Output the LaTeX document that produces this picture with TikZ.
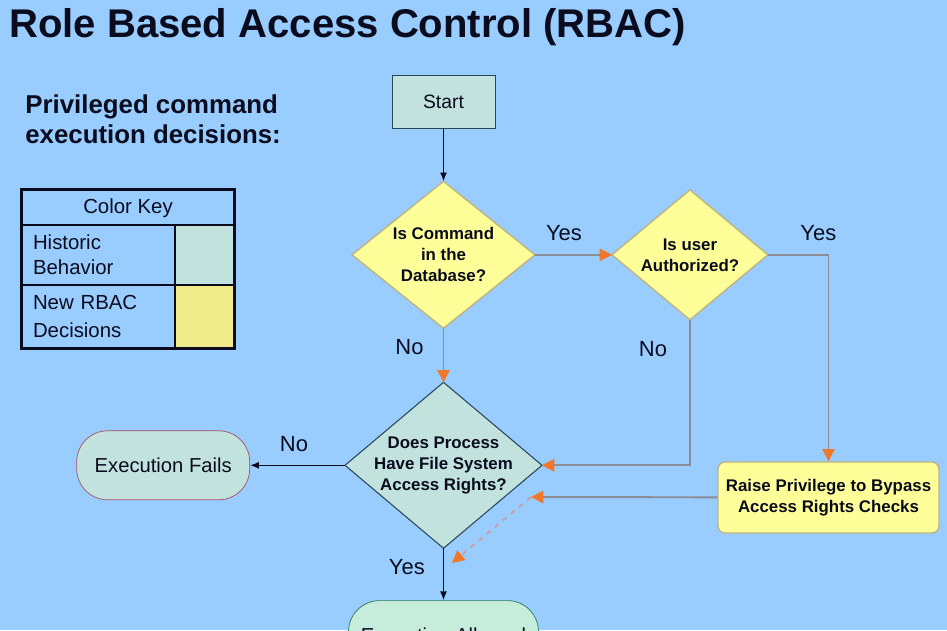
\documentclass[tikz,border=0pt]{standalone}
\usepackage{fontspec}
\setmainfont{Liberation Sans}
\usepackage{tikz}
\usetikzlibrary{positioning,shapes.geometric,arrows.meta}

\definecolor{Sky}{RGB}{153,204,255}
\definecolor{Ink}{RGB}{10,12,30}
\definecolor{OldFill}{RGB}{194,226,221}
\definecolor{OldDark}{RGB}{40,70,90}
\definecolor{NewFill}{RGB}{255,255,153}
\definecolor{NewLine}{RGB}{190,180,130}
\definecolor{SwatchYellow}{RGB}{240,236,140}
\definecolor{OkFill}{RGB}{198,236,220}
\definecolor{OkLine}{RGB}{40,120,90}
\definecolor{FailLine}{RGB}{170,80,100}
\definecolor{FlowGray}{RGB}{140,140,150}
\definecolor{DashPink}{RGB}{200,160,170}
\definecolor{Tip}{RGB}{240,120,40}

\begin{document}
\begin{tikzpicture}[
		x=0.02cm, y=-0.02cm,
		answer/.style={font=\fontsize{12.5}{14}\selectfont, text=Ink, inner sep=2pt},
		oldstep/.style={draw=OldDark, fill=OldFill, text=Ink, align=center, font=\fontsize{11.5}{13}\selectfont},
		newdecide/.style={diamond, draw=NewLine, fill=NewFill, thick, inner sep=0pt, outer sep=0pt, text=Ink, align=center,
			font=\fontsize{9.6}{11.9}\selectfont\bfseries},
		olddecide/.style={newdecide, draw=OldDark, fill=OldFill, semithick},
		hop/.style={line width=1.1pt, FlowGray, -{Triangle[length=7pt, width=7pt, color=Tip]}},
		oldhop/.style={line width=0.9pt, Ink, -{Latex[length=5pt, width=4pt]}},
		keycell/.style={draw=Ink, line width=0.9pt, inner sep=0pt, text=Ink, font=\fontsize{11.6}{14.2}\selectfont}
	]
	\useasboundingbox (0,0) rectangle (947,630);
	\clip (0,0) rectangle (947,630);
	\fill[Sky] (0,0) rectangle (947,630);
	
	% headings
	\node(title)[anchor=west, inner sep=0pt, text=Ink, font=\fontsize{22.8}{26}\selectfont\bfseries] at (9,27) {Role Based Access Control (RBAC)};
	\node(intro)[anchor=north west, align=left, inner sep=0pt, text=Ink, font=\fontsize{14.7}{17.6}\selectfont\bfseries] at (25,94) {Privileged command\\execution decisions:};
	
	% colour key
	\node(keyhead)[keycell, minimum width=4.24cm, minimum height=0.7cm] at (128,208) {Color Key};
	\node(histtext)[keycell, align=left, text width=2.62cm, inner xsep=0.22cm, minimum height=1.2cm] at (98.5,255) {Historic\\Behavior};
	\node(histswatch)[keycell, fill=OldFill, minimum width=1.18cm, minimum height=1.2cm] at (204.5,255) {};
	\node(newtext)[keycell, align=left, text width=2.62cm, inner xsep=0.22cm, minimum height=1.26cm, font=\fontsize{11.6}{16.4}\selectfont] at (98.5,316.5) {New RBAC\\Decisions};
	\node(newswatch)[keycell, fill=SwatchYellow, minimum width=1.18cm, minimum height=1.26cm] at (204.5,316.5) {};
	\draw[Ink, line width=1.6pt] (keyhead.north west) rectangle (newswatch.south east);
	
	% flow
	\node(start)[oldstep, minimum width=2.06cm, minimum height=1.06cm, font=\fontsize{11}{13}\selectfont] at (443.5,101.5) {Start};
	\node(cmd)[newdecide, shape aspect=1.245, minimum width=3.66cm, minimum height=2.94cm, below=1.06cm of start] {Is Command\\in the\\Database?};
	\node(auth)[newdecide, shape aspect=1.2, minimum width=3.12cm, minimum height=2.6cm, right=1.54cm of cmd] {Is user\\Authorized?};
	\node(access)[olddecide, shape aspect=1.19, inner xsep=-7pt, minimum width=3.94cm, minimum height=3.32cm, below=1.08cm of cmd] {Does Process\\Have File System\\Access Rights?};
	\node(fails)[oldstep, draw=FailLine, rounded corners=0.62cm, minimum width=3.46cm, minimum height=1.38cm, left=1.9cm of access] {Execution Fails};
	\node(allowed)[oldstep, draw=OkLine, fill=OkFill, rounded corners=0.62cm, minimum width=3.8cm, minimum height=1.38cm, below=1.04cm of access] {Execution Allowed};
	\node(raise)[draw=NewLine, fill=NewFill, thick, rounded corners=4pt, text=Ink, align=center, minimum width=4.42cm, minimum height=1.42cm,
		font=\fontsize{9.6}{11.9}\selectfont\bfseries] at (828.5,497.5) {Raise Privilege to Bypass\\Access Rights Checks};
	\coordinate(reenter) at (531,497);
	\coordinate(retry) at (452,563);
	
	\path (start) edge[oldhop] (cmd);
	\path (cmd) edge[hop] node[answer, above=5.5pt, xshift=-5.4pt]{Yes} (auth);
	\path (cmd) edge[hop] node[answer, pos=0.35, left=8.8pt]{No} (access);
	\draw[hop] (auth.east) -| node[answer, pos=0.416, above=5.5pt]{Yes} (raise.north);
	\draw[hop] (auth.south) |- node[answer, pos=0.1, left=10.5pt]{No} (access.east);
	\draw[hop] (raise) -- (reenter);
	\draw[hop, DashPink, dashed] (reenter) -- (retry);
	\path (access) edge[oldhop] node[answer, above=5pt, xshift=-2pt]{No} (fails);
	\path (access) edge[oldhop] node[answer, pos=0.36, left=8.2pt]{Yes} (allowed);
\end{tikzpicture}
\end{document}
